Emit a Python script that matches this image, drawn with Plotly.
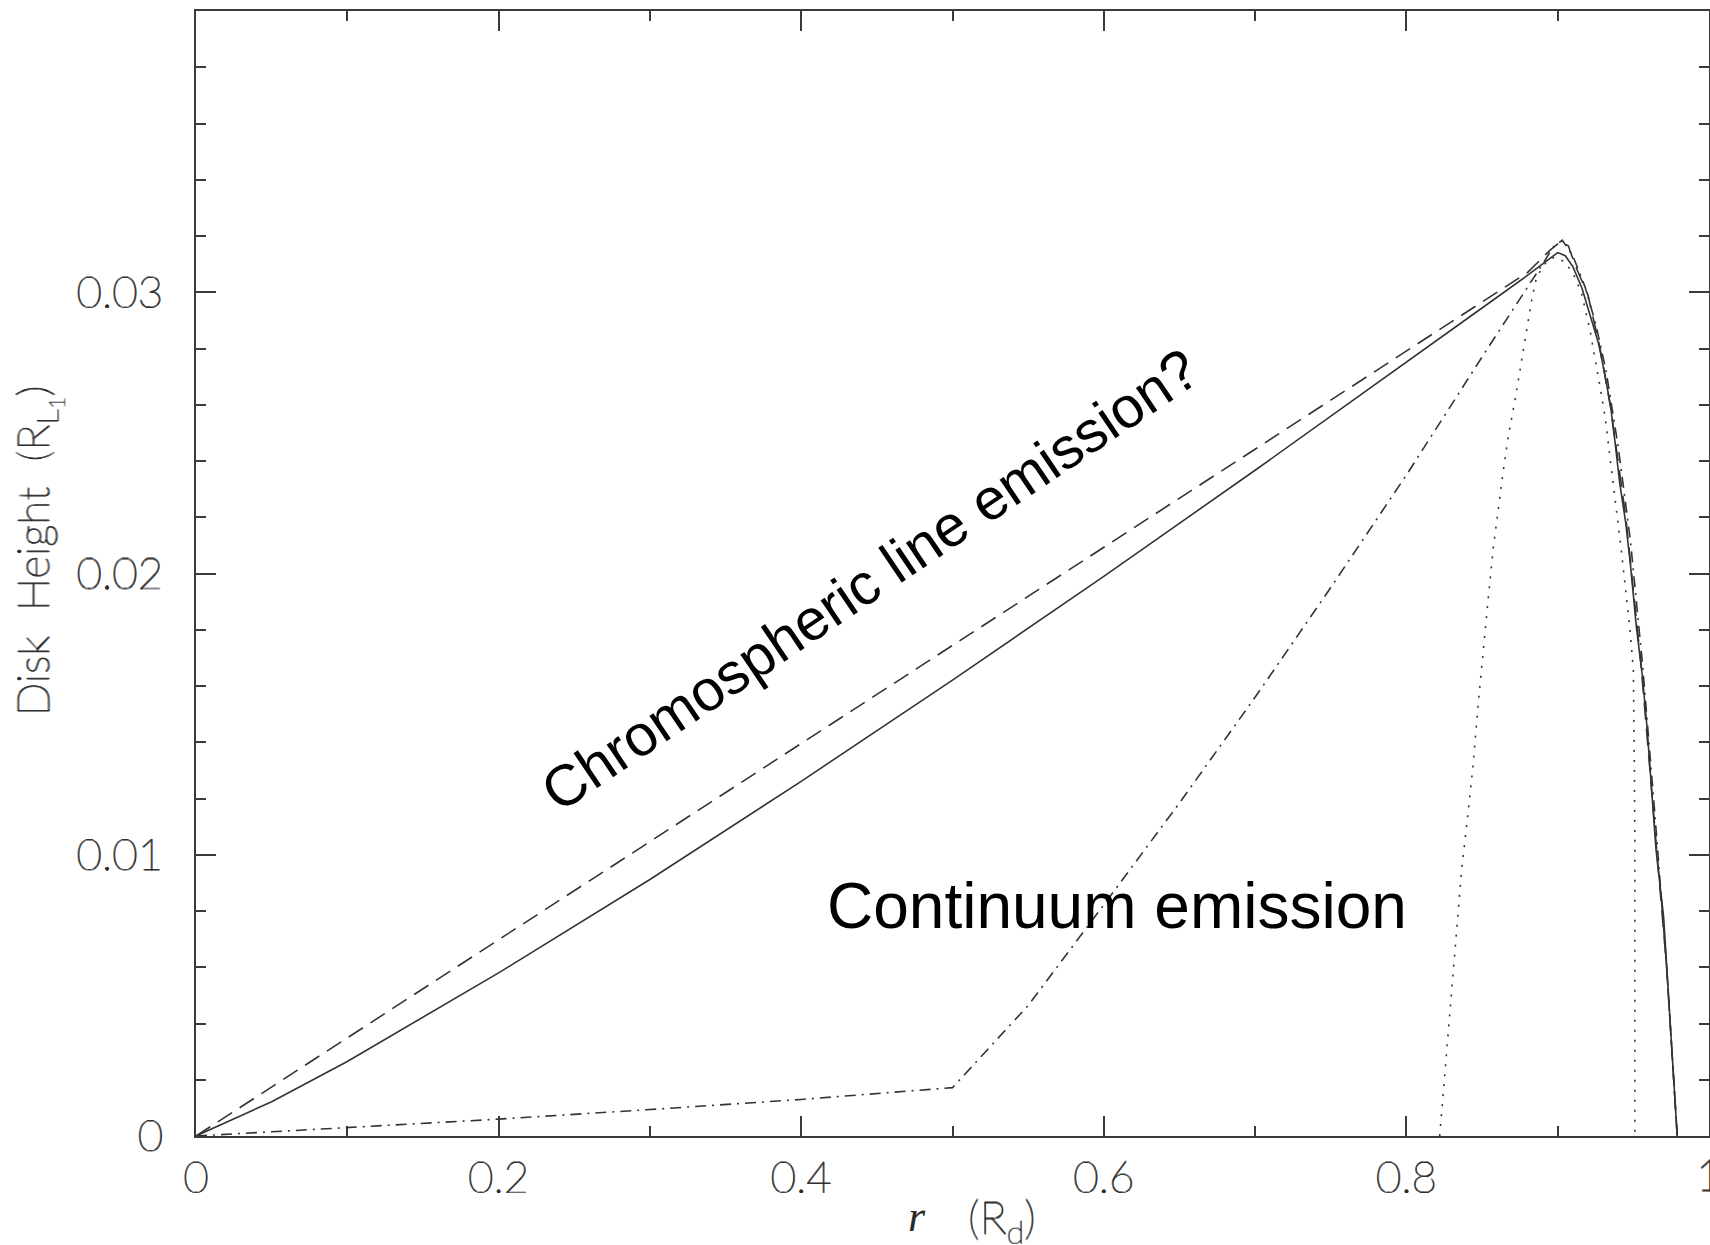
import plotly.graph_objects as go

# Disk height profiles H(r); r in units of the disk radius R_d, H in units of R_L1
solid_r = [0, 0.05, 0.1, 0.2, 0.3, 0.4, 0.5, 0.6, 0.7, 0.8, 0.85, 0.88, 0.895, 0.9,
           0.905, 0.910, 0.916, 0.921, 0.927, 0.931, 0.935, 0.938, 0.941, 0.945,
           0.948, 0.952, 0.956, 0.959, 0.962, 0.965, 0.970, 0.974, 0.979]
solid_h = [0, 0.00122, 0.00265, 0.00580, 0.00912, 0.01261, 0.01621, 0.01990, 0.02367,
           0.02750, 0.02944, 0.03060, 0.03120, 0.03141, 0.03130, 0.03091, 0.03015,
           0.02925, 0.02818, 0.02712, 0.02593, 0.02463, 0.02321, 0.02178, 0.02036,
           0.01810, 0.01633, 0.01455, 0.01242, 0.01017, 0.00780, 0.00424, 0]

dashed_r = [0, 0.1, 0.2, 0.3, 0.4, 0.5, 0.6, 0.7, 0.8, 0.88, 0.895, 0.902, 0.907,
            0.912, 0.920, 0.928, 0.935, 0.945, 0.955, 0.965, 0.972, 0.979]
dashed_h = [0, 0.00349, 0.00698, 0.01047, 0.01396, 0.01745, 0.02094, 0.02443, 0.02792,
            0.03070, 0.03150, 0.03180, 0.03165, 0.03090, 0.02990, 0.02800, 0.02590,
            0.02200, 0.01680, 0.01060, 0.00600, 0]

dashdot_r = [0, 0.1, 0.2, 0.3, 0.4, 0.5, 0.55, 0.6, 0.65, 0.7, 0.75, 0.8, 0.85, 0.89,
             0.897, 0.903, 0.910, 0.918, 0.925, 0.932, 0.940, 0.948, 0.956, 0.964,
             0.972, 0.979]
dashdot_h = [0, 0.00030, 0.00060, 0.00094, 0.00130, 0.00172, 0.00464, 0.00822, 0.01184,
             0.01560, 0.01950, 0.02350, 0.02770, 0.03100, 0.03160, 0.03185, 0.03130,
             0.03020, 0.02890, 0.02720, 0.02450, 0.02120, 0.01680, 0.01160, 0.00600, 0]

dotted_r = [0.822, 0.8266, 0.830, 0.8332, 0.8365, 0.840, 0.8442, 0.8475, 0.8508, 0.8542,
            0.8575, 0.8608, 0.8641, 0.8674, 0.8718, 0.8773, 0.8828, 0.8861, 0.8927,
            0.898, 0.904, 0.910, 0.9158, 0.9213, 0.9247, 0.928, 0.9313, 0.9346,
            0.9379, 0.940, 0.9423, 0.9456, 0.9478, 0.9500, 0.9505, 0.9507, 0.951, 0.951]
dotted_h = [0, 0.00306, 0.00543, 0.00744, 0.00946, 0.01112, 0.01325, 0.01538, 0.01740,
            0.01918, 0.02095, 0.02238, 0.02368, 0.02490, 0.02617, 0.02795, 0.02972,
            0.03055, 0.03109, 0.03125, 0.03110, 0.03070, 0.02996, 0.02866, 0.02770,
            0.02664, 0.02558, 0.02415, 0.02273, 0.02178, 0.02070, 0.01906, 0.01799,
            0.01657, 0.01480, 0.01300, 0.01064, 0]

x_ticks = [0, 0.2, 0.4, 0.6, 0.8]
x_tick_text = ["0", "0.2", "0.4", "0.6", "0.8"]
x_end_tick = 1
x_end_text = "1"
y_ticks = [0, 0.01, 0.02, 0.03]
y_tick_text = ["0", "0.01", "0.02", "0.03"]

LINE = "#333333"
AXIS = "#3a3a3a"
# thin monoline lettering; a tight shadow gives the strokes a little more body
TICKFONT = dict(family="DejaVu Sans ExtraLight, Lato, DejaVu Sans", size=44,
                color="#2a2a2a", weight=200,
                shadow="0.6px 0 0 #2a2a2a, -0.6px 0 0 #2a2a2a, 0 0.6px 0 #2a2a2a, 0 -0.6px 0 #2a2a2a")

fig = go.Figure()

curves = [
    (solid_r, solid_h, "solid"),
    (dashed_r, dashed_h, "17px,9px"),
    (dashdot_r, dashdot_h, "11px,6px,2px,6px"),
    (dotted_r, dotted_h, "2px,8px"),
]
for r, h, dash in curves:
    fig.add_trace(go.Scatter(x=r, y=h, mode="lines",
                             line=dict(color=LINE, width=1.6, dash=dash),
                             showlegend=False, hoverinfo="skip"))

axis_common = dict(ticks="inside", ticklen=20, tickwidth=1.6, tickcolor=AXIS,
                   showline=True, linecolor=AXIS, linewidth=2, mirror="allticks",
                   showgrid=False, zeroline=False, tickfont=TICKFONT)

fig.update_xaxes(range=[0, 1], tickvals=x_ticks + [x_end_tick],
                 ticktext=x_tick_text + [""],
                 minor=dict(dtick=0.1, ticks="inside", ticklen=10, tickwidth=1.6,
                            tickcolor=AXIS, showgrid=False),
                 ticklabelstandoff=2, **axis_common)
fig.update_yaxes(range=[0, 0.04], tickvals=y_ticks, ticktext=y_tick_text,
                 minor=dict(dtick=0.002, ticks="inside", ticklen=10, tickwidth=1.6,
                            tickcolor=AXIS, showgrid=False),
                 ticklabelstandoff=22, **axis_common)

# label of the last x tick, sitting on the right edge of the frame
fig.add_annotation(xref="x", yref="paper", x=x_end_tick, y=(1136 - 1174) / 1125,
                   text=x_end_text, showarrow=False, xanchor="center", yanchor="middle",
                   font=TICKFONT)

# axis titles
fig.add_annotation(xref="paper", yref="paper", x=-0.1044, y=0.52,
                   text="Disk&nbsp;&nbsp;Height&nbsp;&nbsp;(R<sub>L<sub>1</sub></sub>)",
                   textangle=-90, showarrow=False, xanchor="center", yanchor="middle",
                   font=TICKFONT)
fig.add_annotation(xref="paper", yref="paper", x=(917 - 196) / 1513, y=(1136 - 1216) / 1125,
                   text="<i>r</i>", showarrow=False, xanchor="center", yanchor="middle",
                   font=dict(family="Liberation Serif, DejaVu Serif", size=44, color="#2a2a2a"))
fig.add_annotation(xref="paper", yref="paper", x=(1002 - 196) / 1513, y=(1136 - 1220) / 1125,
                   text="(R<sub>d</sub>)", showarrow=False, xanchor="center", yanchor="middle",
                   font=dict(TICKFONT, size=46))

# emission region labels
fig.add_annotation(x=0.4452, y=0.0198, text="Chromospheric line emission?",
                   textangle=-34, showarrow=False, xanchor="center", yanchor="middle",
                   font=dict(family="Liberation Sans, Arial", size=58, color="#000000"))
fig.add_annotation(x=0.6087, y=(1136 - 906) / 28125, text="Continuum emission",
                   showarrow=False, xanchor="center", yanchor="middle",
                   font=dict(family="Liberation Sans, Arial", size=64, color="#000000"))

fig.update_layout(width=1710, height=1245,
                  margin=dict(l=196, r=1, t=11, b=109, autoexpand=False),
                  paper_bgcolor="white", plot_bgcolor="white")

fig.write_html("out.html")
